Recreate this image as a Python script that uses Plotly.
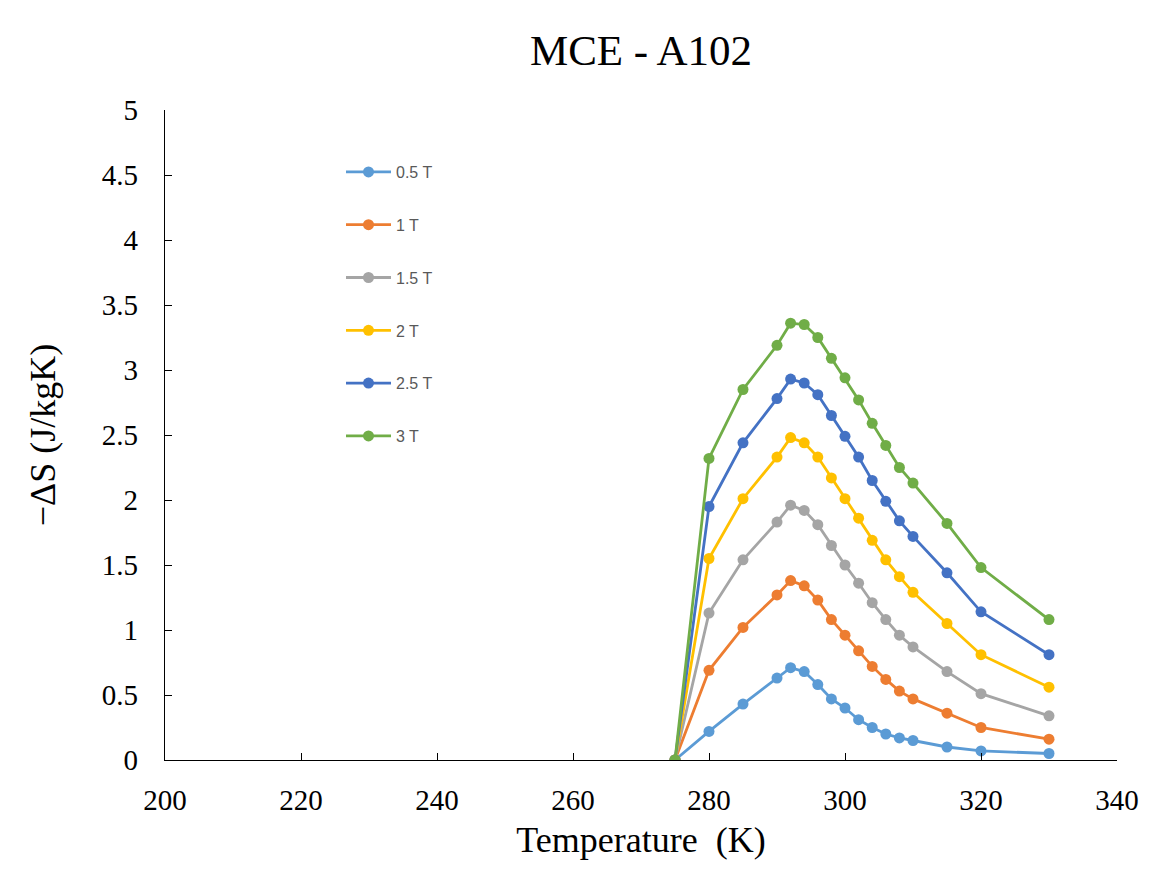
import plotly.graph_objects as go

temperature = [275, 280, 285, 290, 292, 294, 296, 298, 300, 302, 304, 306, 308, 310, 315, 320, 330]

s_05 = [0, 0.22, 0.43, 0.63, 0.71, 0.68, 0.58, 0.47, 0.40, 0.31, 0.25, 0.20, 0.17, 0.15, 0.10, 0.07, 0.05]
s_10 = [0, 0.69, 1.02, 1.27, 1.38, 1.34, 1.23, 1.08, 0.96, 0.84, 0.72, 0.62, 0.53, 0.47, 0.36, 0.25, 0.16]
s_15 = [0, 1.13, 1.54, 1.83, 1.96, 1.92, 1.81, 1.65, 1.50, 1.36, 1.21, 1.08, 0.96, 0.87, 0.68, 0.51, 0.34]
s_20 = [0, 1.55, 2.01, 2.33, 2.48, 2.44, 2.33, 2.17, 2.01, 1.86, 1.69, 1.54, 1.41, 1.29, 1.05, 0.81, 0.56]
s_25 = [0, 1.95, 2.44, 2.78, 2.93, 2.90, 2.81, 2.65, 2.49, 2.33, 2.15, 1.99, 1.84, 1.72, 1.44, 1.14, 0.81]
s_30 = [0, 2.32, 2.85, 3.19, 3.36, 3.35, 3.25, 3.09, 2.94, 2.77, 2.59, 2.42, 2.25, 2.13, 1.82, 1.48, 1.08]

series_names = ["0.5 T", "1 T", "1.5 T", "2 T", "2.5 T", "3 T"]
series_values = [s_05, s_10, s_15, s_20, s_25, s_30]
colors = ["#5B9BD5", "#ED7D31", "#A5A5A5", "#FFC000", "#4472C4", "#70AD47"]

x_ticks = [200, 220, 240, 260, 280, 300, 320, 340]
y_ticks = [0, 0.5, 1, 1.5, 2, 2.5, 3, 3.5, 4, 4.5, 5]
y_tick_labels = ["0", "0.5", "1", "1.5", "2", "2.5", "3", "3.5", "4", "4.5", "5"]

# figure is placed by the page at an 8px offset
W, H = 1142, 865
L, T = 157, 102
PW, PH = 952, 650
R, B = W - L - PW, H - T - PH

fig = go.Figure()
for i, (name, vals, col) in enumerate(zip(series_names, series_values, colors)):
    fig.add_trace(go.Scatter(
        x=temperature, y=vals, name=name, mode="lines+markers",
        line=dict(color=col, width=2.8),
        marker=dict(color=col, size=11, symbol="circle"),
        legendgroup="g%d" % i,
    ))

serif = "Liberation Serif"

fig.update_layout(
    width=W, height=H,
    margin=dict(l=L, r=R, t=T, b=B, autoexpand=False),
    paper_bgcolor="white", plot_bgcolor="white",
    title=dict(text="MCE - A102", x=0.5, xanchor="center", xref="paper",
               y=1 - 42 / H, yanchor="middle", yref="container",
               font=dict(family=serif, size=43, color="#000000")),
    showlegend=True,
    legend=dict(x=(333 - 157) / PW, xanchor="left",
                y=(PH - 45) / PH, yanchor="top",
                font=dict(family="Liberation Sans", size=16, color="#595959"),
                bgcolor="rgba(0,0,0,0)", tracegroupgap=29, itemwidth=45,
                traceorder="grouped"),
    xaxis=dict(range=[200, 340], tickvals=x_ticks, ticktext=[str(v) for v in x_ticks],
               showgrid=False, zeroline=False, showline=True, linecolor="#000000", linewidth=1.3,
               ticks="inside", ticklen=7, tickcolor="#000000", tickwidth=1.3,
               ticklabelstandoff=14,
               tickfont=dict(family=serif, size=29, color="#000000"),
               title=dict(text="Temperature  (K)", standoff=11,
                          font=dict(family=serif, size=36, color="#000000"))),
    yaxis=dict(range=[0, 5], tickvals=y_ticks, ticktext=y_tick_labels,
               showgrid=False, zeroline=False, showline=True, linecolor="#000000", linewidth=1.3,
               ticks="inside", ticklen=7, tickcolor="#000000", tickwidth=1.3,
               ticklabelstandoff=20,
               tickfont=dict(family=serif, size=29, color="#000000"),
               title=dict(text="\u2212\u0394S (J/kgK)", standoff=35,
                          font=dict(family=serif, size=36, color="#000000"))),
)

fig.write_html("out.html")
